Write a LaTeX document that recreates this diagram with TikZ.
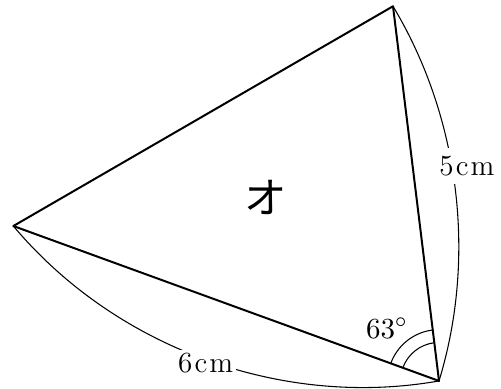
\documentclass[tikz,border=0pt]{standalone}
\usepackage{fontspec}
\newfontfamily\jpfont{Noto Sans CJK JP}
\usetikzlibrary{positioning, calc}

\begin{document}
\begin{tikzpicture}[
    side/.style={line width=0.75pt, line join=round},
    dimarc/.style={line width=0.4pt, bend right=30, looseness=0.9},
    dimlbl/.style={fill=white, inner sep=1pt, font=\fontsize{11}{13}\selectfont},
    anglbl/.style={inner sep=0pt, font=\fontsize{11}{13}\selectfont},
    angarc/.style={line width=0.4pt},
    namelbl/.style={font=\jpfont\fontsize{16}{18}\selectfont}
]
\useasboundingbox (-5.815,-0.106) rectangle (0.821,5.046);
\coordinate (B) at (0,0);
\coordinate (A) at (160:6);
\coordinate (C) at (97:5);

\draw[side] (A) -- (B) -- (C) -- cycle;
\draw[angarc] ($(B)+(97:0.51)$) arc[start angle=97, end angle=160, radius=0.51];
\draw[angarc] ($(B)+(97:0.68)$) arc[start angle=97, end angle=160, radius=0.68];
\node[anglbl]  (ang)  at (-0.689,0.698) {$63^\circ$};
\node[namelbl] (name) at (-2.291,2.424) {オ};

\draw[dimarc] (A) to node[dimlbl, yshift=-0.04cm] (lenab) {6\kern0.8pt c\kern0.8pt m} (B);
\draw[dimarc, bend right=24, looseness=0.88] (B) to node[dimlbl, pos=0.56, xshift=0.2cm, inner sep=3pt] (lenbc) {5\kern0.8pt c\kern0.8pt m} (C);
\end{tikzpicture}
\end{document}
